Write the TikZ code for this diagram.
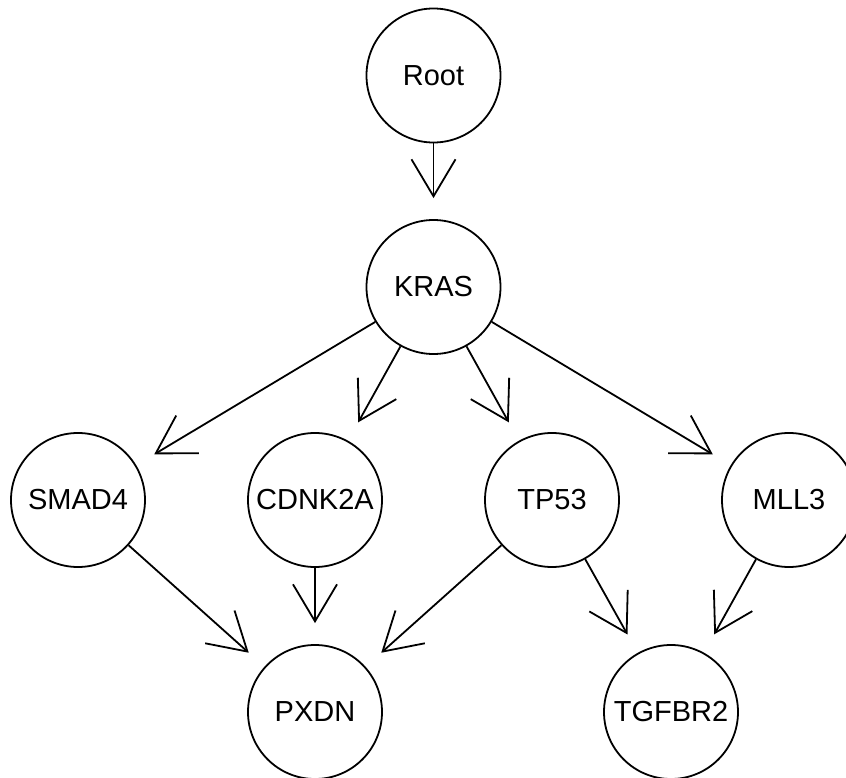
\documentclass[tikz,border=0pt]{standalone}
\usepackage{fontspec}
\setmainfont{Liberation Sans}
\usetikzlibrary{arrows.meta}
\begin{document}
\begin{tikzpicture}[x=1pt,y=-1pt,
  vtx/.style={circle,draw,line width=1.8pt,minimum size=134pt,inner sep=0pt,font=\fontsize{29}{30}\selectfont},
  edge/.style={line width=1.8pt,-{Straight Barb[length=37pt,width=44pt,line width=1.8pt]},shorten >=21pt}]
\useasboundingbox (0,0) rectangle (846,778);
\node[vtx] (root) at (433.5,75.5) {Root};
\node[vtx] (kras) at (433.5,287) {KRAS};
\node[vtx] (smad4) at (78,500) {SMAD4};
\node[vtx] (cdnk2a) at (315,500) {CDNK2A};
\node[vtx] (tp53) at (552,500) {TP53};
\node[vtx] (mll3) at (789,500) {MLL3};
\node[vtx] (pxdn) at (315,712) {PXDN};
\node[vtx] (tgfbr2) at (671,712) {TGFBR2};
\draw[edge] (root) -- (kras);
\draw[edge] (kras) -- (smad4);
\draw[edge] (kras) -- (cdnk2a);
\draw[edge] (kras) -- (tp53);
\draw[edge] (kras) -- (mll3);
\draw[edge] (smad4) -- (pxdn);
\draw[edge] (cdnk2a) -- (pxdn);
\draw[edge] (tp53) -- (pxdn);
\draw[edge] (tp53) -- (tgfbr2);
\draw[edge] (mll3) -- (tgfbr2);
\end{tikzpicture}
\end{document}
